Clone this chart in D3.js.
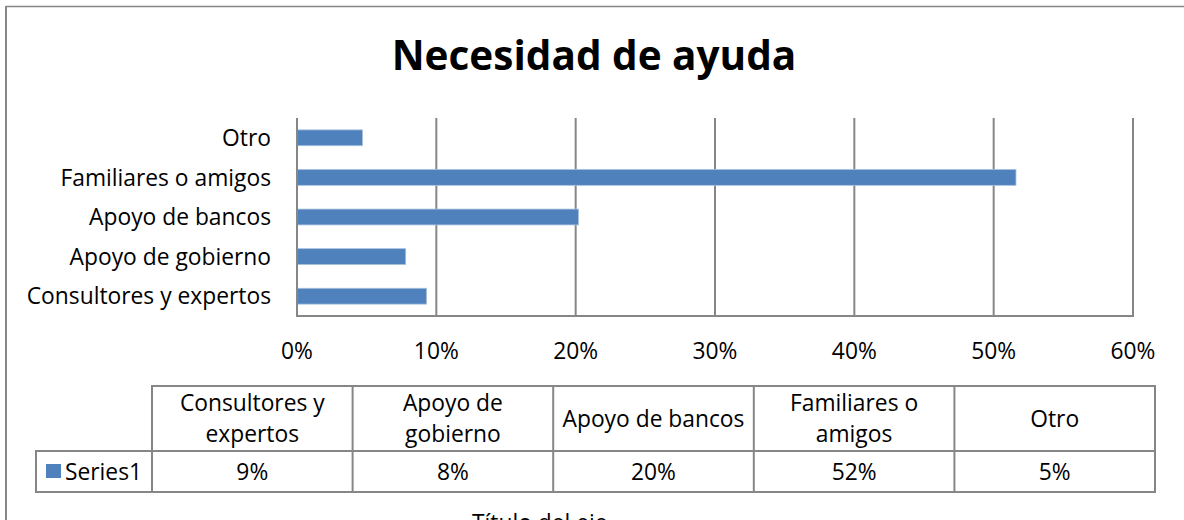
<!DOCTYPE html>
<html>
<head>
<meta charset="utf-8">
<script src="https://cdn.jsdelivr.net/npm/d3@7"></script>
<style>
  body { margin: 0; background: #fff; }
  text { font-family: "Open Sans", sans-serif; fill: #000; }
</style>
</head>
<body>
<div id="target"></div>
<script>
var WIDTH = 1184;
var HEIGHT = 520;

// data (bottom to top as in the data table)
var categories = ["Consultores y expertos", "Apoyo de gobierno", "Apoyo de bancos", "Familiares o amigos", "Otro"];
var headerLines = [["Consultores y", "expertos"], ["Apoyo de", "gobierno"], ["Apoyo de bancos"], ["Familiares o", "amigos"], ["Otro"]];
var values = [0.093, 0.078, 0.202, 0.516, 0.047];
var seriesName = "Series1";
var xTicks = [0, 0.1, 0.2, 0.3, 0.4, 0.5, 0.6];
var title = "Necesidad de ayuda";
var axisTitle = "Título del eje";

var BLUE = "#4f81bd";
var GRID = "#868686";
var FS = "22.8px";

var svg = d3.select("#target").append("svg").attr("width", WIDTH).attr("height", HEIGHT);

// outer chart frame (right/bottom edges fall outside the picture)
svg.append("line").attr("x1", 6).attr("x2", 6).attr("y1", 6).attr("y2", HEIGHT)
  .attr("stroke", GRID).attr("stroke-width", 2);
svg.append("line").attr("x1", 6).attr("x2", WIDTH).attr("y1", 6.5).attr("y2", 6.5)
  .attr("stroke", GRID).attr("stroke-width", 1.5);

svg.append("text")
  .attr("x", 594).attr("y", 70)
  .attr("text-anchor", "middle")
  .style("font-size", "40.5px").style("font-weight", "bold")
  .text(title);

var plot = { left: 297, right: 1133, top: 118, bottom: 316 };

var x = d3.scaleLinear().domain([0, 0.6]).range([plot.left, plot.right]);
var y = d3.scaleBand().domain(categories.slice().reverse())
  .range([plot.top, plot.bottom]).paddingInner(0.6).paddingOuter(0.3);

var g = svg.append("g");

// vertical gridlines
g.selectAll(".grid").data(xTicks.slice(1)).enter().append("line")
  .attr("x1", function(d) { return x(d); })
  .attr("x2", function(d) { return x(d); })
  .attr("y1", plot.top).attr("y2", plot.bottom)
  .attr("stroke", GRID).attr("stroke-width", 2);

// bars
g.selectAll(".bar").data(categories).enter().append("rect")
  .attr("x", x(0))
  .attr("y", function(d) { return y(d); })
  .attr("width", function(d, i) { return x(values[i]) - x(0); })
  .attr("height", y.bandwidth())
  .attr("fill", BLUE)
  .attr("stroke", "#a7c0de").attr("stroke-width", 0.8);

// axes lines
g.append("line").attr("x1", plot.left).attr("x2", plot.left).attr("y1", plot.top).attr("y2", plot.bottom + 1)
  .attr("stroke", GRID).attr("stroke-width", 2);
g.append("line").attr("x1", plot.left - 1).attr("x2", plot.right + 1).attr("y1", plot.bottom).attr("y2", plot.bottom)
  .attr("stroke", GRID).attr("stroke-width", 2);

// category labels
g.selectAll(".cat").data(categories).enter().append("text")
  .attr("x", 271)
  .attr("y", function(d) { return y(d) + y.bandwidth() / 2; })
  .attr("dy", "0.36em")
  .attr("text-anchor", "end")
  .style("font-size", FS)
  .text(function(d) { return d; });

// tick labels
var fmt = d3.format(".0%");
g.selectAll(".tick").data(xTicks).enter().append("text")
  .attr("x", function(d) { return x(d); })
  .attr("y", 359)
  .attr("text-anchor", "middle")
  .style("font-size", FS)
  .text(function(d) { return fmt(d); });

// data table
var table = { left: 152, right: 1155, top: 386, mid: 451, bottom: 492, labelLeft: 36 };
var col = d3.scaleBand().domain(categories).range([table.left, table.right]);
var lineStyle = function(sel) { return sel.attr("stroke", GRID).attr("stroke-width", 2).attr("fill", "none"); };

var tg = svg.append("g");
tg.append("rect").attr("x", table.left).attr("y", table.top)
  .attr("width", table.right - table.left).attr("height", table.bottom - table.top).call(lineStyle);
tg.append("rect").attr("x", table.labelLeft).attr("y", table.mid)
  .attr("width", table.left - table.labelLeft).attr("height", table.bottom - table.mid).call(lineStyle);
tg.append("line").attr("x1", table.left).attr("x2", table.right).attr("y1", table.mid).attr("y2", table.mid).call(lineStyle);
tg.selectAll(".colsep").data(categories.slice(1)).enter().append("line")
  .attr("x1", function(d) { return col(d); })
  .attr("x2", function(d) { return col(d); })
  .attr("y1", table.top).attr("y2", table.bottom).call(lineStyle);

// header cells
categories.forEach(function(c, i) {
  var lines = headerLines[i];
  var cx = col(c) + col.bandwidth() / 2;
  var cy = (table.top + table.mid) / 2;
  var lh = 31;
  lines.forEach(function(t, j) {
    tg.append("text")
      .attr("x", cx)
      .attr("y", cy + (j - (lines.length - 1) / 2) * lh)
      .attr("dy", "0.36em")
      .attr("text-anchor", "middle")
      .style("font-size", FS)
      .text(t);
  });
});

// value cells
tg.selectAll(".val").data(categories).enter().append("text")
  .attr("x", function(d) { return col(d) + col.bandwidth() / 2; })
  .attr("y", (table.mid + table.bottom) / 2)
  .attr("dy", "0.36em")
  .attr("text-anchor", "middle")
  .style("font-size", FS)
  .text(function(d, i) { return fmt(values[i]); });

// legend key + series name
tg.append("rect").attr("x", 46).attr("y", 464).attr("width", 15).attr("height", 14).attr("fill", BLUE);
tg.append("text").attr("x", 65).attr("y", (table.mid + table.bottom) / 2).attr("dy", "0.36em")
  .style("font-size", FS).text(seriesName);

// axis title, mostly cut off at the bottom edge as in the source picture
svg.append("text").attr("x", 472).attr("y", 531)
  .style("font-size", FS).text(axisTitle);
</script>
</body>
</html>
